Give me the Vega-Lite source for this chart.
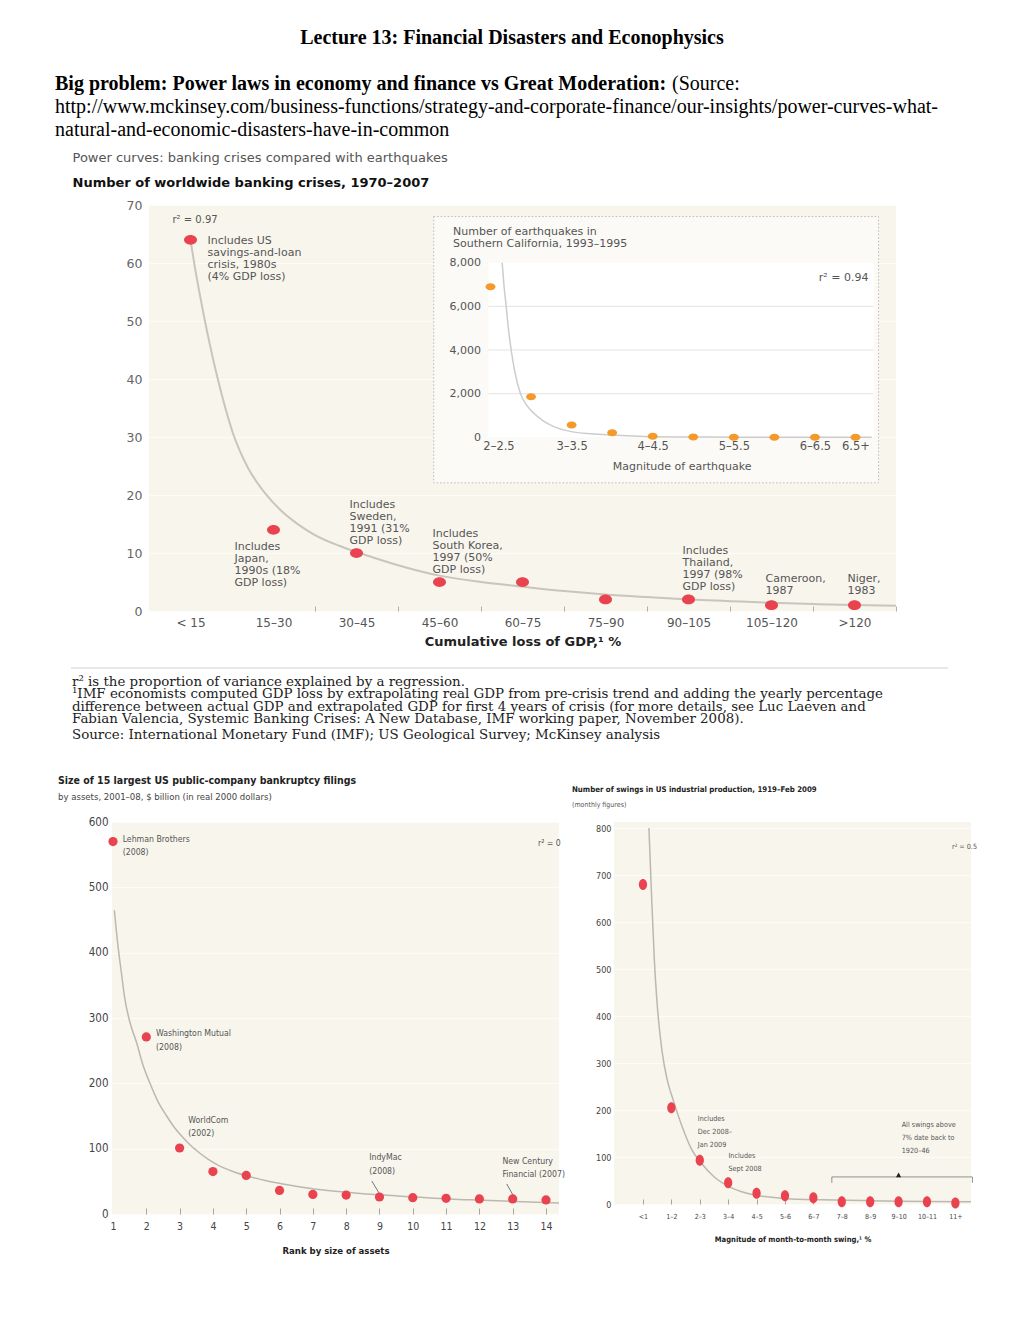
{
  "$schema": "https://vega.github.io/schema/vega-lite/v6.json",
  "background": "white",
  "padding": {"left": 55, "top": 28, "right": 10, "bottom": 10},
  "spacing": 0,
  "config": {"view": {"stroke": null}},
  "vconcat": [
    {
      "width": 914, "height": 1,
      "data": {"values": []}, "mark": "rect", "encoding": {},
      "title": {"text": "Lecture 13: Financial Disasters and Econophysics", "anchor": "middle", "frame": "group", "font": "Liberation Serif", "fontSize": 20, "fontWeight": "bold", "color": "#000", "offset": 25}
    },
    {
      "spacing": 0,
      "hconcat": [
        {
          "width": 617, "height": 1,
          "data": {"values": []}, "mark": "rect", "encoding": {},
          "title": {"text": "Big problem: Power laws in economy and finance vs Great Moderation:", "anchor": "start", "frame": "group", "font": "Liberation Serif", "fontSize": 20, "fontWeight": "bold", "color": "#000", "offset": 2}
        },
        {
          "width": 80, "height": 1,
          "data": {"values": []}, "mark": "rect", "encoding": {},
          "title": {"text": "(Source:", "anchor": "start", "frame": "group", "font": "Liberation Serif", "fontSize": 20, "fontWeight": "normal", "color": "#000", "offset": 2}
        }
      ]
    },
    {
      "width": 890, "height": 1,
      "data": {"values": []}, "mark": "rect", "encoding": {},
      "title": {"text": ["http://www.mckinsey.com/business-functions/strategy-and-corporate-finance/our-insights/power-curves-what-", "natural-and-economic-disasters-have-in-common"], "anchor": "start", "frame": "group", "font": "Liberation Serif", "fontSize": 20, "fontWeight": "normal", "lineHeight": 23, "color": "#000", "offset": 10}
    },
    {
      "spacing": 0,
      "hconcat": [
        {"width": 17, "height": 1, "data": {"values": []}, "mark": "rect", "encoding": {}},
        {
          "width": 747, "height": 406,
          "view": {"fill": "#f8f5ed", "stroke": null},
          "title": {"text": "Power curves: banking crises compared with earthquakes", "subtitle": "Number of worldwide banking crises, 1970–2007", "anchor": "start", "frame": "group", "dx": -76.5, "font": "DejaVu Sans", "fontSize": 13, "fontWeight": "normal", "color": "#555", "subtitleFont": "DejaVu Sans", "subtitleFontSize": 13, "subtitleFontWeight": "bold", "subtitleColor": "#111", "subtitlePadding": 12, "offset": 9.4},
          "resolve": {"scale": {"x": "independent", "y": "independent"}},
          "layer": [
            {
              "data": {"values": [{"pos": 3.43, "pos2": 8.79, "crises": 22.1, "crises2": 68}]},
              "mark": {"type": "rect", "fill": "#fbfaf6", "stroke": "#b9b9b9", "strokeDash": [1.5, 2], "strokeWidth": 1},
              "encoding": {
                "x": {"field": "pos", "type": "quantitative", "scale": {"domain": [0, 9]}, "axis": null},
                "x2": {"field": "pos2"},
                "y": {"field": "crises", "type": "quantitative", "scale": {"domain": [0, 70]}, "axis": null},
                "y2": {"field": "crises2"}
              }
            },
            {
              "data": {"values": [{"pos": 4.09, "pos2": 8.73, "crises": 29.95, "crises2": 60.05}]},
              "mark": {"type": "rect", "fill": "#ffffff"},
              "encoding": {
                "x": {"field": "pos", "type": "quantitative", "scale": {"domain": [0, 9]}, "axis": null},
                "x2": {"field": "pos2"},
                "y": {"field": "crises", "type": "quantitative", "scale": {"domain": [0, 70]}, "axis": null},
                "y2": {"field": "crises2"}
              }
            },
            {
              "data": {"values": [
                {"pos": 0.5, "crises": 64}, {"pos": 0.55, "crises": 59.5}, {"pos": 0.6, "crises": 55.5}, {"pos": 0.66, "crises": 51},
                {"pos": 0.74, "crises": 45.5}, {"pos": 0.82, "crises": 40.5}, {"pos": 0.92, "crises": 35}, {"pos": 1.02, "crises": 30.3},
                {"pos": 1.12, "crises": 26.8}, {"pos": 1.2, "crises": 24.5}, {"pos": 1.3, "crises": 22.2}, {"pos": 1.4, "crises": 20.3},
                {"pos": 1.6, "crises": 17.2}, {"pos": 1.8, "crises": 14.9}, {"pos": 2.0, "crises": 13.1}, {"pos": 2.3, "crises": 11.2},
                {"pos": 2.6, "crises": 9.7}, {"pos": 3.0, "crises": 7.9}, {"pos": 3.5, "crises": 6.1}, {"pos": 4.0, "crises": 5.0},
                {"pos": 4.5, "crises": 4.2}, {"pos": 5.0, "crises": 3.45}, {"pos": 5.5, "crises": 2.85}, {"pos": 6.0, "crises": 2.4},
                {"pos": 6.5, "crises": 2.0}, {"pos": 7.0, "crises": 1.7}, {"pos": 7.5, "crises": 1.42}, {"pos": 8.0, "crises": 1.2},
                {"pos": 8.5, "crises": 1.02}, {"pos": 9.0, "crises": 0.9}
              ]},
              "mark": {"type": "line", "color": "#c9c5bd", "strokeWidth": 2, "interpolate": "monotone"},
              "encoding": {
                "x": {"field": "pos", "type": "quantitative", "scale": {"domain": [0, 9]}, "axis": null},
                "y": {"field": "crises", "type": "quantitative", "scale": {"domain": [0, 70]}, "axis": null}
              }
            },
            {
              "data": {"values": [
                {"pos": 0.705, "crises": 63.28, "note": "Includes US\nsavings-and-loan\ncrisis, 1980s\n(4% GDP loss)"},
                {"pos": 1.03, "crises": 10.52, "note": "Includes\nJapan,\n1990s (18%\nGDP loss)"},
                {"pos": 2.416, "crises": 17.76, "note": "Includes\nSweden,\n1991 (31%\nGDP loss)"},
                {"pos": 3.416, "crises": 12.76, "note": "Includes\nSouth Korea,\n1997 (50%\nGDP loss)"},
                {"pos": 6.428, "crises": 9.83, "note": "Includes\nThailand,\n1997 (98%\nGDP loss)"},
                {"pos": 7.428, "crises": 5.0, "note": "Cameroon,\n1987"},
                {"pos": 8.416, "crises": 5.0, "note": "Niger,\n1983"}
              ]},
              "mark": {"type": "text", "align": "left", "baseline": "alphabetic", "font": "DejaVu Sans", "fontSize": 11, "color": "#555", "lineBreak": "\n", "lineHeight": 12},
              "encoding": {
                "x": {"field": "pos", "type": "quantitative", "scale": {"domain": [0, 9]}, "axis": null},
                "y": {"field": "crises", "type": "quantitative", "scale": {"domain": [0, 70]}, "axis": null},
                "text": {"field": "note", "type": "nominal"}
              }
            },
            {
              "data": {"values": [{"pos": 0.283, "crises": 66.98, "note": "r² = 0.97"}]},
              "mark": {"type": "text", "align": "left", "baseline": "alphabetic", "font": "DejaVu Sans", "fontSize": 10, "color": "#555"},
              "encoding": {
                "x": {"field": "pos", "type": "quantitative", "scale": {"domain": [0, 9]}, "axis": null},
                "y": {"field": "crises", "type": "quantitative", "scale": {"domain": [0, 70]}, "axis": null},
                "text": {"field": "note", "type": "nominal"}
              }
            },
            {
              "data": {"values": [
                {"loss": "< 15", "crises": 64}, {"loss": "15–30", "crises": 14}, {"loss": "30–45", "crises": 10},
                {"loss": "45–60", "crises": 5}, {"loss": "60–75", "crises": 5}, {"loss": "75–90", "crises": 2},
                {"loss": "90–105", "crises": 2}, {"loss": "105–120", "crises": 1}, {"loss": ">120", "crises": 1}
              ]},
              "mark": {"type": "point", "filled": true, "shape": "M -1 0 A 1 0.75 0 1 1 1 0 A 1 0.75 0 1 1 -1 0 Z", "size": 169, "color": "#ea4350", "opacity": 1, "strokeWidth": 0},
              "encoding": {
                "x": {
                  "field": "loss", "type": "nominal",
                  "scale": {"type": "band", "domain": ["< 15", "15–30", "30–45", "45–60", "60–75", "75–90", "90–105", "105–120", ">120"], "paddingInner": 0, "paddingOuter": 0},
                  "axis": {"title": "Cumulative loss of GDP,¹ %", "tickBand": "extent", "ticks": true, "tickSize": -5, "tickColor": "#b3afa7", "tickOpacity": {"condition": {"test": "datum.value === '< 15' || datum.extra", "value": 0}, "value": 1}, "domain": false, "grid": false, "labelAngle": 0, "labelFont": "DejaVu Sans", "labelFontSize": 12, "labelColor": "#555", "labelPadding": 11, "titleFont": "DejaVu Sans", "titleFontSize": 13, "titleFontWeight": "bold", "titleColor": "#222", "titlePadding": 7}
                },
                "y": {
                  "field": "crises", "type": "quantitative", "scale": {"domain": [0, 70]},
                  "axis": {"title": null, "values": [0, 10, 20, 30, 40, 50, 60, 70], "grid": true, "gridColor": "#fdfcf8", "ticks": false, "domain": false, "labelFont": "DejaVu Sans", "labelFontSize": 12.5, "labelColor": "#666", "labelPadding": 7}
                }
              }
            },
            {
              "data": {"values": [{"m": -0.05, "m2": 9.44, "quakes": 2000}, {"m": -0.05, "m2": 9.44, "quakes": 4000}, {"m": -0.05, "m2": 9.44, "quakes": 6000}]},
              "mark": {"type": "rule", "color": "#e3e3e3", "strokeWidth": 1},
              "encoding": {
                "x": {"field": "m", "type": "quantitative", "scale": {"domain": [0, 9], "range": [341.5, 706.5]}, "axis": null},
                "x2": {"field": "m2"},
                "y": {"field": "quakes", "type": "quantitative", "scale": {"domain": [0, 8000], "range": [232.3, 57.7]}, "axis": null}
              }
            },
            {
              "data": {"values": [
                {"m": 0.288, "quakes": 8000}, {"m": 0.33, "quakes": 7000}, {"m": 0.387, "quakes": 6000}, {"m": 0.44, "quakes": 5000},
                {"m": 0.51, "quakes": 4000}, {"m": 0.6, "quakes": 3000}, {"m": 0.74, "quakes": 2000}, {"m": 0.9, "quakes": 1450},
                {"m": 1.07, "quakes": 1100}, {"m": 1.3, "quakes": 750}, {"m": 1.56, "quakes": 490}, {"m": 1.99, "quakes": 260},
                {"m": 2.5, "quakes": 160}, {"m": 2.98, "quakes": 107}, {"m": 3.5, "quakes": 60}, {"m": 4.0, "quakes": 30},
                {"m": 5.0, "quakes": 15}, {"m": 6.0, "quakes": 8}, {"m": 7.0, "quakes": 5}, {"m": 8.0, "quakes": 3}, {"m": 9.4, "quakes": 2}
              ]},
              "mark": {"type": "line", "color": "#cccccc", "strokeWidth": 1.5, "interpolate": "monotone"},
              "encoding": {
                "x": {"field": "m", "type": "quantitative", "scale": {"domain": [0, 9], "range": [341.5, 706.5]}, "axis": null},
                "y": {"field": "quakes", "type": "quantitative", "scale": {"domain": [0, 8000], "range": [232.3, 57.7]}, "axis": null}
              }
            },
            {
              "data": {"values": [
                {"mag": "2–2.5", "m": 0, "quakes": 6900}, {"mag": "2.5–3", "m": 1, "quakes": 1860}, {"mag": "3–3.5", "m": 2, "quakes": 565},
                {"mag": "3.5–4", "m": 3, "quakes": 210}, {"mag": "4–4.5", "m": 4, "quakes": 45}, {"mag": "4.5–5", "m": 5, "quakes": 15},
                {"mag": "5–5.5", "m": 6, "quakes": 6}, {"mag": "5.5–6", "m": 7, "quakes": 3}, {"mag": "6–6.5", "m": 8, "quakes": 1},
                {"mag": "6.5+", "m": 9, "quakes": 1}
              ]},
              "mark": {"type": "point", "filled": true, "shape": "M -1 0 A 1 0.7 0 1 1 1 0 A 1 0.7 0 1 1 -1 0 Z", "size": 100, "color": "#f4992a", "opacity": 1, "strokeWidth": 0},
              "encoding": {
                "x": {
                  "field": "m", "type": "quantitative", "scale": {"domain": [0, 9], "range": [341.5, 706.5]},
                  "axis": {"orient": "bottom", "offset": -173.7, "values": [0, 2, 4, 6, 8, 9], "labelExpr": "['2–2.5','2.5–3','3–3.5','3.5–4','4–4.5','4.5–5','5–5.5','5.5–6','6–6.5','6.5+'][datum.value]", "labelOffset": {"condition": {"test": "datum.value === 0", "value": 8}, "value": 0}, "title": null, "domain": false, "ticks": false, "grid": false, "labelFont": "DejaVu Sans", "labelFontSize": 11.5, "labelColor": "#555", "labelPadding": 3, "labelFlush": false, "labelOverlap": false, "zindex": 1}
                },
                "y": {
                  "field": "quakes", "type": "quantitative", "scale": {"domain": [0, 8000], "range": [232.3, 57.7]},
                  "axis": {"orient": "left", "offset": -339.5, "values": [0, 2000, 4000, 6000, 8000], "format": ",.0f", "title": null, "grid": false, "domain": false, "ticks": false, "labelFont": "DejaVu Sans", "labelFontSize": 11, "labelColor": "#555", "labelPadding": 8, "zindex": 1}
                }
              }
            },
            {
              "data": {"values": [
                {"m": -0.925, "quakes": 9283, "note": "Number of earthquakes in\nSouthern California, 1993–1995"},
                {"m": 8.094, "quakes": 7175, "note": "r² = 0.94"},
                {"m": 3.016, "quakes": -1498, "note": "Magnitude of earthquake"}
              ]},
              "mark": {"type": "text", "align": "left", "baseline": "alphabetic", "font": "DejaVu Sans", "fontSize": 11, "color": "#555", "lineBreak": "\n", "lineHeight": 12},
              "encoding": {
                "x": {"field": "m", "type": "quantitative", "scale": {"domain": [0, 9], "range": [341.5, 706.5]}, "axis": null},
                "y": {"field": "quakes", "type": "quantitative", "scale": {"domain": [0, 8000], "range": [232.3, 57.7]}, "axis": null},
                "text": {"field": "note", "type": "nominal"}
              }
            }
          ]
        }
      ]
    },
    {"width": 1, "height": 18.6, "data": {"values": []}, "mark": "rect", "encoding": {}},
    {
      "spacing": 0,
      "hconcat": [
        {"width": 15, "height": 1, "data": {"values": []}, "mark": "rect", "encoding": {}},
        {
          "width": 877, "height": 1,
          "data": {"values": [{"a": 0, "b": 1, "c": 1}]},
          "mark": {"type": "rule", "color": "#d0d0d0", "strokeWidth": 1},
          "encoding": {
            "x": {"field": "a", "type": "quantitative", "scale": {"domain": [0, 1]}, "axis": null},
            "x2": {"field": "b"},
            "y": {"field": "c", "type": "quantitative", "scale": {"domain": [0, 1]}, "axis": null}
          },
          "title": {
            "text": ["r² is the proportion of variance explained by a regression.", "¹IMF economists computed GDP loss by extrapolating real GDP from pre-crisis trend and adding the yearly percentage", " difference between actual GDP and extrapolated GDP for first 4 years of crisis (for more details, see Luc Laeven and", " Fabian Valencia, Systemic Banking Crises: A New Database, IMF working paper, November 2008)."],
            "subtitle": "Source: International Monetary Fund (IMF); US Geological Survey; McKinsey analysis",
            "orient": "bottom", "anchor": "start", "frame": "group", "dx": 1,
            "font": "DejaVu Serif", "fontSize": 13.4, "fontWeight": "normal", "lineHeight": 12.5, "color": "#222",
            "subtitleFont": "DejaVu Serif", "subtitleFontSize": 13.4, "subtitleColor": "#222", "subtitlePadding": 3, "offset": 5.5
          }
        }
      ]
    },
    {"width": 1, "height": 33, "data": {"values": []}, "mark": "rect", "encoding": {}},
    {
      "spacing": 0,
      "hconcat": [
        {"width": 3, "height": 1, "data": {"values": []}, "mark": "rect", "encoding": {}},
        {
          "width": 447, "height": 392,
          "view": {"fill": "#f8f5ed", "stroke": null},
          "title": {"text": "Size of 15 largest US public-company bankruptcy filings", "subtitle": "by assets, 2001–08, $ billion (in real 2000 dollars)", "anchor": "start", "frame": "group", "dx": -54, "font": "DejaVu Sans Condensed, sans-serif", "fontSize": 10.5, "fontWeight": "bold", "color": "#222", "subtitleFont": "DejaVu Sans Condensed, sans-serif", "subtitleFontSize": 9.5, "subtitleColor": "#444", "subtitlePadding": 6, "offset": 14.3},
          "encoding": {
            "x": {
              "field": "rank", "type": "quantitative", "scale": {"domain": [0.97, 14.39], "nice": false, "zero": false},
              "axis": {"values": [1, 2, 3, 4, 5, 6, 7, 8, 9, 10, 11, 12, 13, 14], "title": "Rank by size of assets", "grid": false, "domain": false, "ticks": true, "tickSize": -6, "tickColor": "#a9a59d", "tickOpacity": {"condition": {"test": "datum.value === 1", "value": 0}, "value": 1}, "labelFlush": false, "labelFont": "DejaVu Sans Condensed, sans-serif", "labelFontSize": 10.5, "labelColor": "#444", "labelPadding": 13, "titleFont": "DejaVu Sans Condensed, sans-serif", "titleFontSize": 9.5, "titleFontWeight": "bold", "titleColor": "#222", "titlePadding": 13.5}
            },
            "y": {
              "field": "assets", "type": "quantitative", "scale": {"domain": [0, 600], "nice": false},
              "axis": {"values": [0, 100, 200, 300, 400, 500, 600], "title": null, "grid": true, "gridColor": "#fdfcf8", "domain": false, "ticks": false, "labelFont": "DejaVu Sans Condensed, sans-serif", "labelFontSize": 11.5, "labelColor": "#444", "labelPadding": 4}
            }
          },
          "layer": [
            {
              "data": {"values": [
                {"rank": 1.04, "assets": 465}, {"rank": 1.15, "assets": 410}, {"rank": 1.25, "assets": 370}, {"rank": 1.36, "assets": 328},
                {"rank": 1.5, "assets": 295}, {"rank": 1.71, "assets": 262}, {"rank": 1.9, "assets": 228}, {"rank": 2.11, "assets": 200},
                {"rank": 2.35, "assets": 172}, {"rank": 2.61, "assets": 150}, {"rank": 2.85, "assets": 132}, {"rank": 3.1, "assets": 117},
                {"rank": 3.35, "assets": 104}, {"rank": 3.61, "assets": 93}, {"rank": 3.85, "assets": 84}, {"rank": 4.11, "assets": 76},
                {"rank": 4.6, "assets": 65}, {"rank": 5.11, "assets": 57}, {"rank": 5.6, "assets": 51}, {"rank": 6.1, "assets": 46},
                {"rank": 7.1, "assets": 38}, {"rank": 8.1, "assets": 33}, {"rank": 9.1, "assets": 29}, {"rank": 10.1, "assets": 26},
                {"rank": 11.1, "assets": 23}, {"rank": 12.1, "assets": 21}, {"rank": 13.1, "assets": 19}, {"rank": 14.39, "assets": 17}
              ]},
              "mark": {"type": "line", "color": "#bcb8b0", "strokeWidth": 1.5, "interpolate": "monotone"}
            },
            {
              "data": {"values": [{"rank": 8.77, "assets": 50.5, "rank2": 9.0, "assets2": 31}, {"rank": 12.82, "assets": 46, "rank2": 13.02, "assets2": 28}]},
              "mark": {"type": "rule", "color": "#555", "strokeWidth": 0.8},
              "encoding": {"x2": {"field": "rank2"}, "y2": {"field": "assets2"}}
            },
            {
              "data": {"values": [
                {"rank": 1, "assets": 570}, {"rank": 2, "assets": 271}, {"rank": 3, "assets": 101}, {"rank": 4, "assets": 65},
                {"rank": 5, "assets": 59}, {"rank": 6, "assets": 36}, {"rank": 7, "assets": 30}, {"rank": 8, "assets": 29},
                {"rank": 9, "assets": 26}, {"rank": 10, "assets": 25}, {"rank": 11, "assets": 24}, {"rank": 12, "assets": 23},
                {"rank": 13, "assets": 23}, {"rank": 14, "assets": 21.5}
              ]},
              "mark": {"type": "circle", "size": 85, "color": "#ea4350", "opacity": 1}
            },
            {
              "data": {"values": [
                {"rank": 1.29, "assets": 569.7, "note": "Lehman Brothers\n(2008)"},
                {"rank": 13.76, "assets": 563, "note": "r² = 0"},
                {"rank": 2.29, "assets": 272.2, "note": "Washington Mutual\n(2008)"},
                {"rank": 3.26, "assets": 139.6, "note": "WorldCom\n(2002)"},
                {"rank": 8.69, "assets": 81.9, "note": "IndyMac\n(2008)"},
                {"rank": 12.69, "assets": 76.8, "note": "New Century\nFinancial (2007)"}
              ]},
              "mark": {"type": "text", "align": "left", "baseline": "alphabetic", "font": "DejaVu Sans Condensed, sans-serif", "fontSize": 8.7, "color": "#555", "lineBreak": "\n", "lineHeight": 13.4},
              "encoding": {"text": {"field": "note", "type": "nominal"}}
            }
          ]
        },
        {"width": 6, "height": 1, "data": {"values": []}, "mark": "rect", "encoding": {}},
        {
          "width": 357, "height": 382,
          "view": {"fill": "#f8f5ed", "stroke": null},
          "title": {"text": "Number of swings in US industrial production, 1919–Feb 2009", "subtitle": "(monthly figures)", "anchor": "start", "frame": "group", "dx": -42, "font": "DejaVu Sans Condensed, sans-serif", "fontSize": 7.8, "fontWeight": "bold", "color": "#222", "subtitleFont": "DejaVu Sans Condensed, sans-serif", "subtitleFontSize": 7, "subtitleColor": "#555", "subtitlePadding": 7.3, "offset": 14},
          "encoding": {
            "x": {
              "field": "swing", "type": "quantitative", "scale": {"domain": [-1.02, 11.55], "nice": false, "zero": false},
              "axis": {"values": [0, 1, 2, 3, 4, 5, 6, 7, 8, 9, 10, 11], "labelExpr": "['<1','1–2','2–3','3–4','4–5','5–6','6–7','7–8','8–9','9–10','10–11','11+'][datum.value]", "title": "Magnitude of month-to-month swing,¹ %", "grid": false, "domain": false, "ticks": true, "tickSize": -5, "tickColor": "#a9a59d", "labelFlush": false, "labelOverlap": false, "labelFont": "DejaVu Sans Condensed, sans-serif", "labelFontSize": 7, "labelColor": "#444", "labelPadding": 13, "titleFont": "DejaVu Sans Condensed, sans-serif", "titleFontSize": 7.6, "titleFontWeight": "bold", "titleColor": "#222", "titlePadding": 16.8}
            },
            "y": {
              "field": "count", "type": "quantitative", "scale": {"domain": [0, 812.8], "nice": false},
              "axis": {"values": [0, 100, 200, 300, 400, 500, 600, 700, 800], "title": null, "grid": true, "gridColor": "#fdfcf8", "domain": false, "ticks": false, "labelFont": "DejaVu Sans Condensed, sans-serif", "labelFontSize": 9, "labelColor": "#444", "labelPadding": 3}
            }
          },
          "layer": [
            {
              "data": {"values": [
                {"swing": 0.21, "count": 800}, {"swing": 0.3, "count": 660}, {"swing": 0.4, "count": 520}, {"swing": 0.49, "count": 433},
                {"swing": 0.55, "count": 390}, {"swing": 0.67, "count": 326}, {"swing": 0.85, "count": 265}, {"swing": 1.07, "count": 220},
                {"swing": 1.39, "count": 163}, {"swing": 1.7, "count": 118}, {"swing": 2.08, "count": 85}, {"swing": 2.5, "count": 58},
                {"swing": 3.1, "count": 35}, {"swing": 3.6, "count": 24}, {"swing": 4.12, "count": 17}, {"swing": 4.8, "count": 13},
                {"swing": 5.46, "count": 10}, {"swing": 6.3, "count": 9}, {"swing": 7.17, "count": 8}, {"swing": 8, "count": 7},
                {"swing": 9.05, "count": 6}, {"swing": 10, "count": 5.5}, {"swing": 11.55, "count": 5}
              ]},
              "mark": {"type": "line", "color": "#bcb8b0", "strokeWidth": 1.5, "interpolate": "monotone"}
            },
            {
              "data": {"values": [
                {"swing": 6.65, "count": 57.6, "swing2": 11.6, "count2": 57.6},
                {"swing": 6.65, "count": 57.6, "swing2": 6.65, "count2": 45},
                {"swing": 11.6, "count": 57.6, "swing2": 11.6, "count2": 45}
              ]},
              "mark": {"type": "rule", "color": "#777", "strokeWidth": 0.8},
              "encoding": {"x2": {"field": "swing2"}, "y2": {"field": "count2"}}
            },
            {
              "data": {"values": [{"swing": 9, "count": 62}]},
              "mark": {"type": "point", "shape": "triangle-up", "filled": true, "size": 28, "color": "#222", "opacity": 1}
            },
            {
              "data": {"values": [
                {"range": "<1", "swing": 0, "count": 680}, {"range": "1–2", "swing": 1, "count": 205}, {"range": "2–3", "swing": 2, "count": 93},
                {"range": "3–4", "swing": 3, "count": 45}, {"range": "4–5", "swing": 4, "count": 23}, {"range": "5–6", "swing": 5, "count": 17.5},
                {"range": "6–7", "swing": 6, "count": 13.5}, {"range": "7–8", "swing": 7, "count": 5}, {"range": "8–9", "swing": 8, "count": 5},
                {"range": "9–10", "swing": 9, "count": 5}, {"range": "10–11", "swing": 10, "count": 5}, {"range": "11+", "swing": 11, "count": 2}
              ]},
              "mark": {"type": "point", "filled": true, "shape": "M 0 -1 A 0.75 1 0 1 1 0 1 A 0.75 1 0 1 1 0 -1 Z", "size": 121, "color": "#ea4350", "opacity": 1, "strokeWidth": 0}
            },
            {
              "data": {"values": [
                {"swing": 10.88, "count": 755, "note": "r² = 0.5"},
                {"swing": 1.93, "count": 176, "note": "Includes\nDec 2008–\nJan 2009"},
                {"swing": 3.01, "count": 97.9, "note": "Includes\nSept 2008"},
                {"swing": 9.11, "count": 163, "note": "All swings above\n7% date back to\n1920–46"}
              ]},
              "mark": {"type": "text", "align": "left", "baseline": "alphabetic", "font": "DejaVu Sans Condensed, sans-serif", "fontSize": 7.2, "color": "#555", "lineBreak": "\n", "lineHeight": 13},
              "encoding": {"text": {"field": "note", "type": "nominal"}}
            }
          ]
        }
      ]
    }
  ]
}
